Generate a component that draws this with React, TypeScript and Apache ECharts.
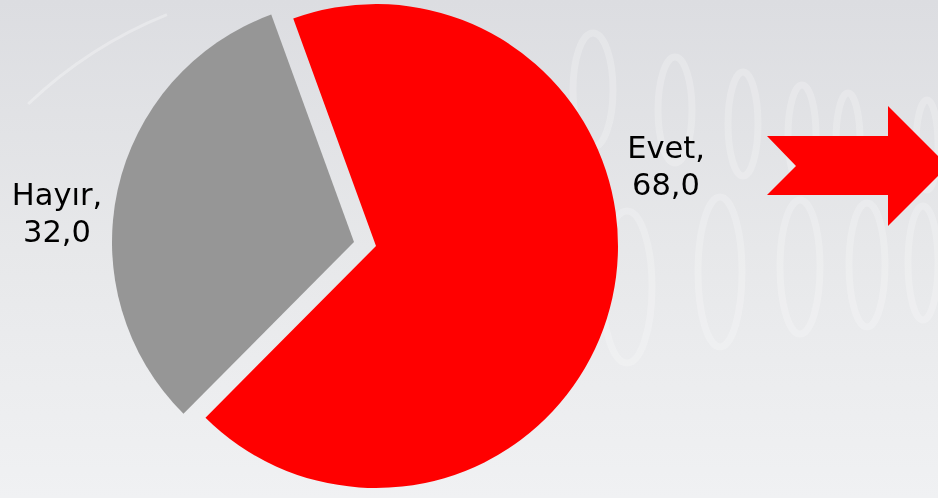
import React, { useEffect, useRef } from 'react';
import * as echarts from 'echarts';

const categories = ['Evet', 'Hayır'];
const values = [68.0, 32.0];
const colors = ['#ff0000', '#969696'];

// decorative "0" shapes of the background: [cx, cy, rx, ry]
const decoEllipses = [
  [593, 90, 20, 57],
  [675, 110, 17, 53],
  [743, 124, 15, 52],
  [802, 135, 14, 50],
  [848, 140, 12, 47],
  [927, 145, 11, 45],
  [627, 287, 25, 76],
  [720, 272, 22, 75],
  [800, 267, 20, 67],
  [867, 265, 18, 62],
  [923, 263, 15, 57],
];

// exploded slice centres (pie explosion) and label anchors
const sliceCenters = [
  [376, 246],
  [354, 242],
];
const labelAnchors = [
  [666, 166],
  [57, 213],
];

export default function App() {
  const ref = useRef<HTMLDivElement>(null);
  useEffect(() => {
    const chart = echarts.init(ref.current!, null, { renderer: 'svg' });
    const graphics: any[] = [
      {
        type: 'rect',
        z: -10,
        silent: true,
        shape: { x: 0, y: 0, width: 938, height: 498 },
        style: {
          fill: new echarts.graphic.LinearGradient(0, 0, 0, 1, [
            { offset: 0, color: '#dcdde1' },
            { offset: 0.5, color: '#e7e8ea' },
            { offset: 1, color: '#f0f1f3' },
          ]),
        },
      },
      {
        type: 'arc',
        z: -9,
        silent: true,
        shape: { cx: 330, cy: 420, r: 437, startAngle: 3.95, endAngle: 4.33, clockwise: true },
        style: { fill: 'none', stroke: 'rgba(255,255,255,0.3)', lineWidth: 3 },
      },
      ...decoEllipses.map(([cx, cy, rx, ry]) => ({
        type: 'ellipse',
        z: -9,
        silent: true,
        shape: { cx, cy, rx, ry },
        style: { fill: 'none', stroke: 'rgba(255,255,255,0.22)', lineWidth: 7 },
      })),
      {
        type: 'polygon',
        z: 10,
        silent: true,
        shape: {
          points: [
            [767, 136],
            [888, 136],
            [888, 106],
            [948, 166],
            [888, 226],
            [888, 195],
            [767, 195],
            [796, 166],
          ],
        },
        style: { fill: '#ff0000' },
      },
    ];
    const fmt = (p: any) =>
      `${p.name},\n${Number(p.value).toFixed(1).replace('.', ',')}`;
    const series = categories.map((_, si) => ({
      type: 'pie',
      silent: true,
      center: sliceCenters[si],
      radius: 242,
      startAngle: 110,
      clockwise: true,
      data: categories.map((n, i) => ({
        name: n,
        value: values[i],
        itemStyle: { color: i === si ? colors[i] : 'rgba(0,0,0,0)' },
        label: { show: i === si },
      })),
      label: {
        position: 'outside',
        formatter: fmt,
        fontFamily: 'DejaVu Sans',
        fontSize: 30.5,
        lineHeight: 37,
        color: '#000',
        align: 'center',
        overflow: 'none',
      },
      labelLine: { show: false },
      labelLayout: () => ({
        x: labelAnchors[si][0],
        y: labelAnchors[si][1],
        align: 'center',
        verticalAlign: 'middle',
      }),
      emphasis: { disabled: true },
    }));
    chart.setOption({
      animation: false,
      graphic: graphics,
      series,
    });
    return () => chart.dispose();
  }, []);
  return (
    <div
      ref={ref}
      style={{ position: 'fixed', left: 0, top: 0, width: 938, height: 498 }}
    />
  );
}
